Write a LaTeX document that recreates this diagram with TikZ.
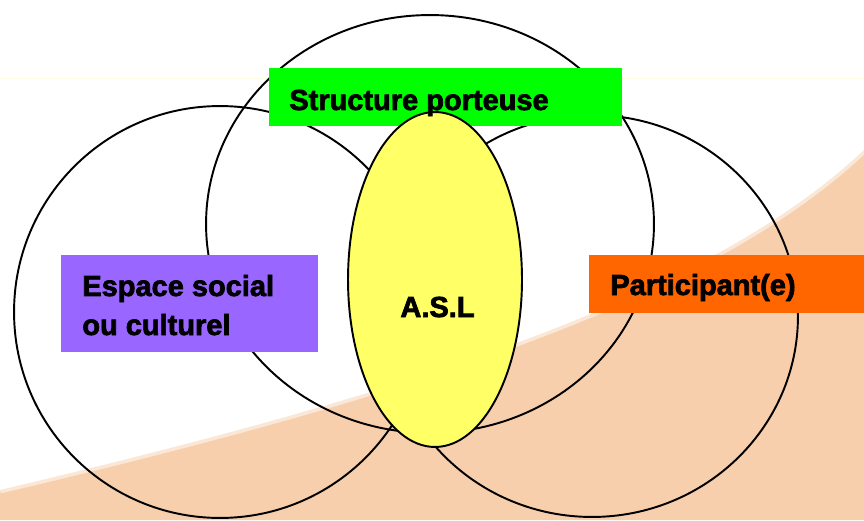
\documentclass[tikz,border=0pt]{standalone}
\usepackage{fontspec}
\setmainfont{Liberation Sans}
\newfontfamily\tagfont[FakeBold=2.4]{Liberation Sans Bold}
\usetikzlibrary{shapes.geometric, positioning}
\usepackage{xcolor}

\definecolor{peach}{RGB}{247,207,172}
\definecolor{boxgreen}{RGB}{0,255,0}
\definecolor{boxpurple}{RGB}{153,102,255}
\definecolor{boxorange}{RGB}{255,102,0}
\definecolor{aslyellow}{RGB}{255,255,102}

\begin{document}
\begin{tikzpicture}[
  x=0.02cm, y=-0.02cm,
  ring/.style={draw, line width=1.1pt},
  tag/.style={rectangle, inner sep=0pt, outer sep=0pt},
  tagtext/.style={font=\tagfont\fontsize{16.5}{22.2}\selectfont,
    inner sep=0pt, anchor=base west, align=left}
]
\useasboundingbox (0,0) rectangle (864,520);

% background band
\fill[peach] (0,490) .. controls (380,400) and (700,305) .. (864,150)
  -- (864,520) -- (0,520) -- cycle;
\draw[white, line width=4pt, opacity=0.5] (0,490) .. controls (380,400) and (700,305) .. (864,150);
\draw[yellow!12, line width=0.5pt] (0,78) -- (864,78);

% the three circles
\draw[ring] (430,224) ellipse [x radius=4.48cm, y radius=4.18cm];
\draw[ring] (220,312) ellipse [x radius=4.12cm, y radius=4.12cm];
\draw[ring] (592,316) ellipse [x radius=4.12cm, y radius=4.02cm];

% boxes
\node[tag, fill=boxgreen, minimum width=7.06cm, minimum height=1.16cm] (structbox) at (445.5,97) {};
\node[tag, fill=boxpurple, minimum width=5.14cm, minimum height=1.94cm] (espacebox) at (189.5,303.5) {};
\node[tag, fill=boxorange, minimum width=5.5cm, minimum height=1.16cm] (partbox) at (726.5,284) {};

% centre
\node[ellipse, draw, line width=1.1pt, fill=aslyellow, inner sep=0pt,
  minimum width=3.48cm, minimum height=6.7cm] (asl) at (435,279.5) {};

% labels
\node[tagtext] (structtxt) at (289,110) {Structure porteuse};
\node[tagtext] (espacetxt) at (82,335) {Espace social\\ou culturel};
\node[tagtext] (parttxt) at (610,295) {Participant(e)};
\node[tagtext, anchor=base] (asltxt) at (437.5,317) {A.S.L};

\end{tikzpicture}
\end{document}
